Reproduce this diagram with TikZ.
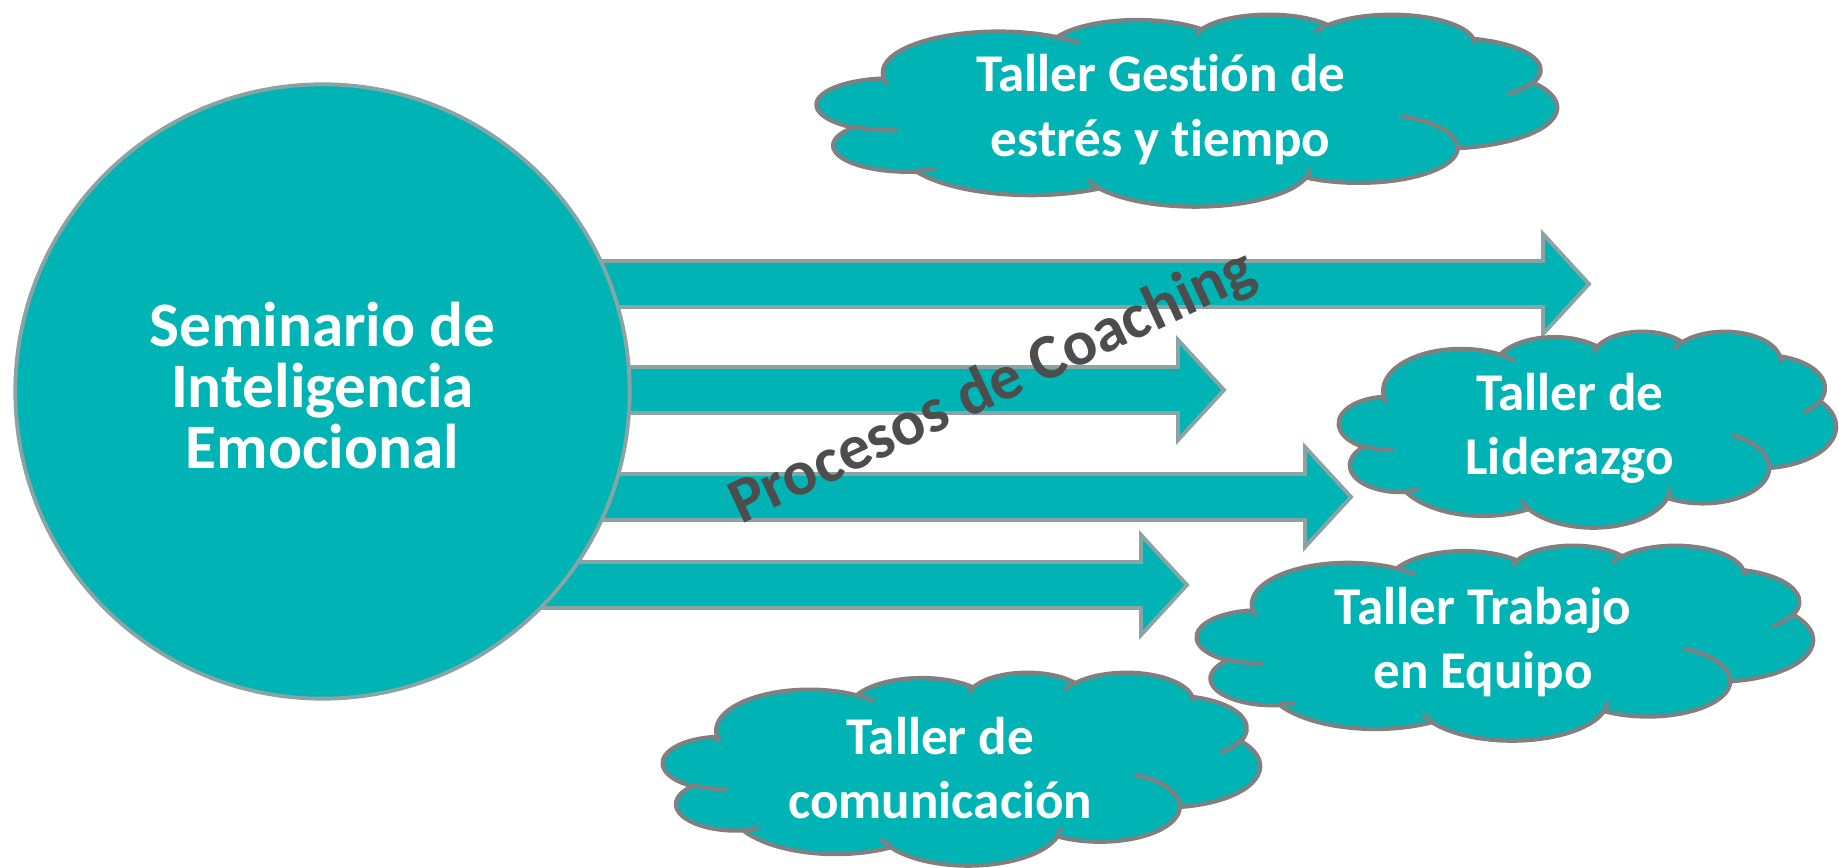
\documentclass[tikz,border=0pt]{standalone}
\usepackage{fontspec}
\setmainfont{Carlito}[Ligatures=NoCommon]
\usetikzlibrary{shapes}
\definecolor{tealfill}{RGB}{0,180,181}
\definecolor{arrowline}{RGB}{138,163,163}
\definecolor{cloudgray}{RGB}{128,128,128}
\definecolor{labelgray}{RGB}{77,77,77}
\tikzstyle{seminar} = [circle, minimum size=6.14cm, inner sep=0pt, fill=tealfill, draw=arrowline, line width=1.1pt, text=white, align=center, text depth=0.12cm, font=\fontsize{18}{17.4}\selectfont\bfseries]
\tikzstyle{coacharrow} = [fill=tealfill, draw=arrowline, line width=1.1pt]
\tikzstyle{cloudbody} = [fill=tealfill, draw=cloudgray, line width=1.2pt]
\tikzstyle{cloudcrease} = [draw=cloudgray, line width=1.2pt]
\tikzstyle{cloudtext} = [text=white, align=center, inner sep=0pt, font=\fontsize{15.1}{18.4}\selectfont\bfseries]
\tikzstyle{slanted} = [rotate=25, text=labelgray, inner sep=0pt, font=\fontsize{18.2}{22}\selectfont\bfseries]
% arc of the office cloud outline: x radius / y radius / start / sweep (visual angles)
\tikzset{pptarc/.style n args={4}{x radius=#1, y radius=#2,
  start angle={atan2(#1*sin(#3),#2*cos(#3))},
  delta angle={mod(atan2(#1*sin(#3+#4),#2*cos(#3+#4))-atan2(#1*sin(#3),#2*cos(#3))+720,360)}}}
% name / centre x / centre y / width / height / text
\newcommand{\pptcloud}[6]{%
  \begin{scope}[shift={(#2,#3)}, xscale=#4/4320, yscale=#5/4320, shift={(-2160,-2160)}]
    \draw[cloudbody] (390,1437)
      \foreach \rw/\rh/\sa/\sw in {675.3/919.0/-190.4875/123.7805, 533.3/726.7/-144.1024/89.9452,
        436.5/594.5/-145.8079/99.7230, 485.7/659.5/-130.9861/117.2417, 533.3/727.3/-78.7089/109.0269,
        677.5/922.0/-46.2673/130.2690, 578.5/786.7/0.6250/114.0333, 675.2/921.5/22.4516/115.1726,
        772.0/1054.3/66.2426/75.7110, 436.0/591.8/-274.9421/146.7356, 434.5/594.5/-246.8285/152.5189}
        { arc[pptarc={\rw}{\rh}{\sa}{\sw}] } -- cycle;
    \foreach \px/\py/\rw/\rh/\sa/\sw in {469.3/2617.7/434.5/594.5/86.7420/26.4295,
        692.8/3489.9/436.0/591.8/73.6105/11.4475, 1647.8/3909.0/675.2/921.5/137.6242/14.0811,
        2882.7/3475.1/675.2/921.5/6.4533/15.9984, 3412.9/2295.4/578.5/786.7/-70.2924/70.9174,
        4179.8/1535.4/533.3/727.3/30.3180/27.7515, 3832.4/542.6/485.7/659.5/-13.7443/14.8589,
        2907.8/395.2/485.7/659.5/-149.1815/18.1954, 2214.1/472.0/436.5/594.5/-163.4943/17.6864,
        1400.0/519.2/675.3/919.0/-66.7070/12.3194, 412.7/1578.9/675.3/919.0/157.6544/11.8582}
      \draw[cloudcrease] (\px,\py) arc[pptarc={\rw}{\rh}{\sa}{\sw}];
  \end{scope}
  \node (#1) [cloudtext] at (#2-0.0356*#4, #3-0.0232*#5+4) {#6};}

\begin{document}
\begin{tikzpicture}[x=0.01cm, y=-0.01cm]
\useasboundingbox (0,0) rectangle (1839,868);

% Arrows (behind the circle)
\foreach \yc/\xb in {284/1543, 390/1178, 497/1305, 585/1141}
  \draw[coacharrow] (400,\yc-23) -- (\xb,\yc-23) -- (\xb,\yc-50) -- (\xb+46,\yc)
    -- (\xb,\yc+50) -- (\xb,\yc+23) -- (400,\yc+23) -- cycle;

% Circle
\node (semin) [seminar] at (322.5,391.5) {Seminario de\\Inteligencia\\Emocional};

% Clouds
\pptcloud{gestion}{1187}{110}{740}{192}{Taller Gestión de\\estrés y tiempo}
\pptcloud{liderazgo}{1587.5}{429}{497}{196}{Taller de\\Liderazgo}
\pptcloud{equipo}{1505}{642.5}{616}{195}{Taller Trabajo\\en Equipo}
\pptcloud{comunic}{961.5}{768.5}{597}{193}{Taller de\\comunicación}

% Slanted label
\node (coaching) [slanted] at (993,388) {Procesos de Coaching};

\end{tikzpicture}
\end{document}
